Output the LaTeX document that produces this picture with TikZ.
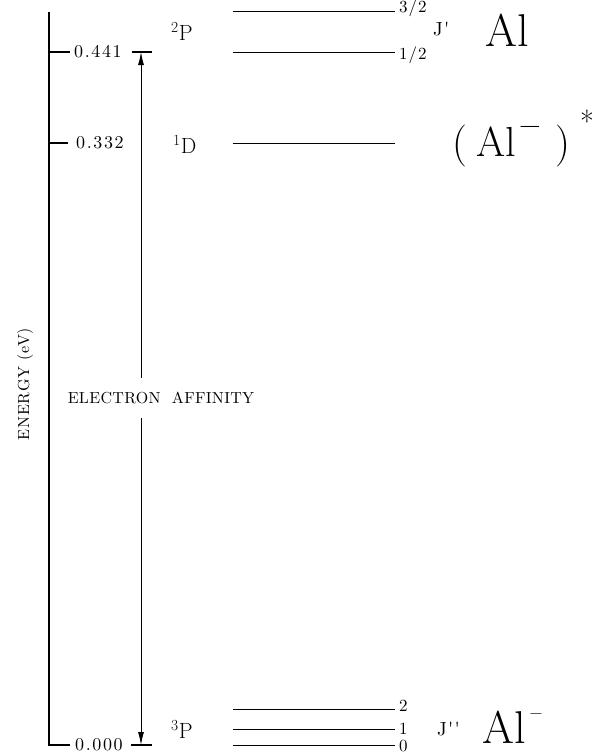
\documentclass[tikz,border=0pt]{standalone}
\usepackage{fontspec}
\usetikzlibrary{arrows.meta}
\newfontfamily\plotnum[LetterSpace=9]{lmroman10-regular.otf}
\newfontfamily\plotj[LetterSpace=6]{lmroman10-regular.otf}
\newfontfamily\plottxt[LetterSpace=2]{lmroman10-regular.otf}
\newfontfamily\plotax[LetterSpace=5]{lmroman10-regular.otf}
\tikzset{
  lvl/.style={line width=0.9pt},
  axis/.style={line width=1.1pt},
  numlab/.style={inner sep=0pt, anchor=west, font=\plotnum\fontsize{18}{18}\selectfont},
  jlab/.style={inner sep=0pt, anchor=west, font=\plotj\fontsize{17}{17}\selectfont},
  jsym/.style={inner sep=0pt, anchor=west, font=\plotj\fontsize{19}{19}\selectfont},
  term/.style={inner sep=0pt, anchor=base west, font=\fontsize{22}{22}\selectfont},
  big/.style={inner sep=0pt, anchor=base west, font=\fontsize{46}{46}\selectfont},
  mid/.style={inner sep=0pt, anchor=base west, font=\fontsize{42}{42}\selectfont},
  sym/.style={inner sep=0pt, font=\fontsize{#1}{#1}\selectfont},
  txt/.style={inner sep=0pt, font=\plottxt\fontsize{16}{16}\selectfont},
  axl/.style={inner sep=0pt, font=\plotax\fontsize{16}{16}\selectfont},
  ea/.style={-{Latex[length=13pt,width=6pt]}, line width=0.9pt}
}
\begin{document}
\begin{tikzpicture}[x=1pt,y=-1pt]
\useasboundingbox (0,0) rectangle (602,755);
% energy axis
\coordinate (axtop) at (49,12);
\coordinate (axbot) at (49,745);
\coordinate (axend) at (70,745);
\draw[axis] (axtop) -- (axbot) -- (axend);
\coordinate (t1a) at (49,52);  \coordinate (t1b) at (70,52);
\coordinate (t2a) at (49,143); \coordinate (t2b) at (68,143);
\draw[axis] (t1a) -- (t1b);
\draw[axis] (t2a) -- (t2b);
\node[numlab] (v441) at (74,52) {0.441};
\node[numlab] (v332) at (76,143) {0.332};
\node[numlab] (v000) at (75,745) {0.000};
\coordinate (r1a) at (132,52);  \coordinate (r1b) at (152,52);
\coordinate (r0a) at (131,745); \coordinate (r0b) at (152,745);
\draw[axis] (r1a) -- (r1b);
\draw[axis] (r0a) -- (r0b);
\node[axl, rotate=90] (en) at (25,384) {ENERGY (eV)};
% electron affinity arrow
\coordinate (atop) at (141,52);
\coordinate (abot) at (141,745);
\node[txt, minimum height=40pt] (eal) at (161,398) {ELECTRON\ \ AFFINITY};
\draw[ea] (eal.north -| atop) -- (atop);
\draw[ea] (eal.south -| abot) -- (abot);
% term symbols
\node[term] (p2) at (171,40) {\textsuperscript{2}P};
\node[term] (d1) at (173,153) {\textsuperscript{1}D};
\node[term] (p3) at (171,738) {\textsuperscript{3}P};
% levels
\coordinate (l32a) at (233,11);  \coordinate (l32b) at (395,11);
\coordinate (l12a) at (233,52);  \coordinate (l12b) at (395,52);
\coordinate (lDa) at (233,143);  \coordinate (lDb) at (395,143);
\coordinate (l2a) at (233,709);  \coordinate (l2b) at (395,709);
\coordinate (l1a) at (233,729);  \coordinate (l1b) at (395,729);
\coordinate (l0a) at (233,745);  \coordinate (l0b) at (395,745);
\draw[lvl] (l32a) -- (l32b);
\draw[lvl] (l12a) -- (l12b);
\draw[lvl] (lDa) -- (lDb);
\draw[lvl] (l2a) -- (l2b);
\draw[lvl] (l1a) -- (l1b);
\draw[lvl] (l0a) -- (l0b);
% J labels
\node[jlab] (j32) at (399,8) {3/2};
\node[jlab] (j12) at (399,55) {1/2};
\node[jsym] (jp) at (433,29) {J'};
\node[jlab] (j2) at (399,706) {2};
\node[jlab] (j1) at (399,729) {1};
\node[jlab] (j0) at (399,746) {0};
\node[jsym] (jpp) at (437,729) {J''};
% species
\node[big] (al) at (485,46) {Al};
\node[mid] (alxl) at (452,156) {(};
\node[mid] (alxa) at (476,156) {Al};
\node[sym=30] (alxm) at (530,130) {−};
\node[mid] (alxr) at (555,156) {)};
\node[sym=30, anchor=north] (alxs) at (587,110) {*};
\node[big] (alm) at (482,743) {Al};
\node[sym=18] (almm) at (536,716) {−};
\end{tikzpicture}
\end{document}
